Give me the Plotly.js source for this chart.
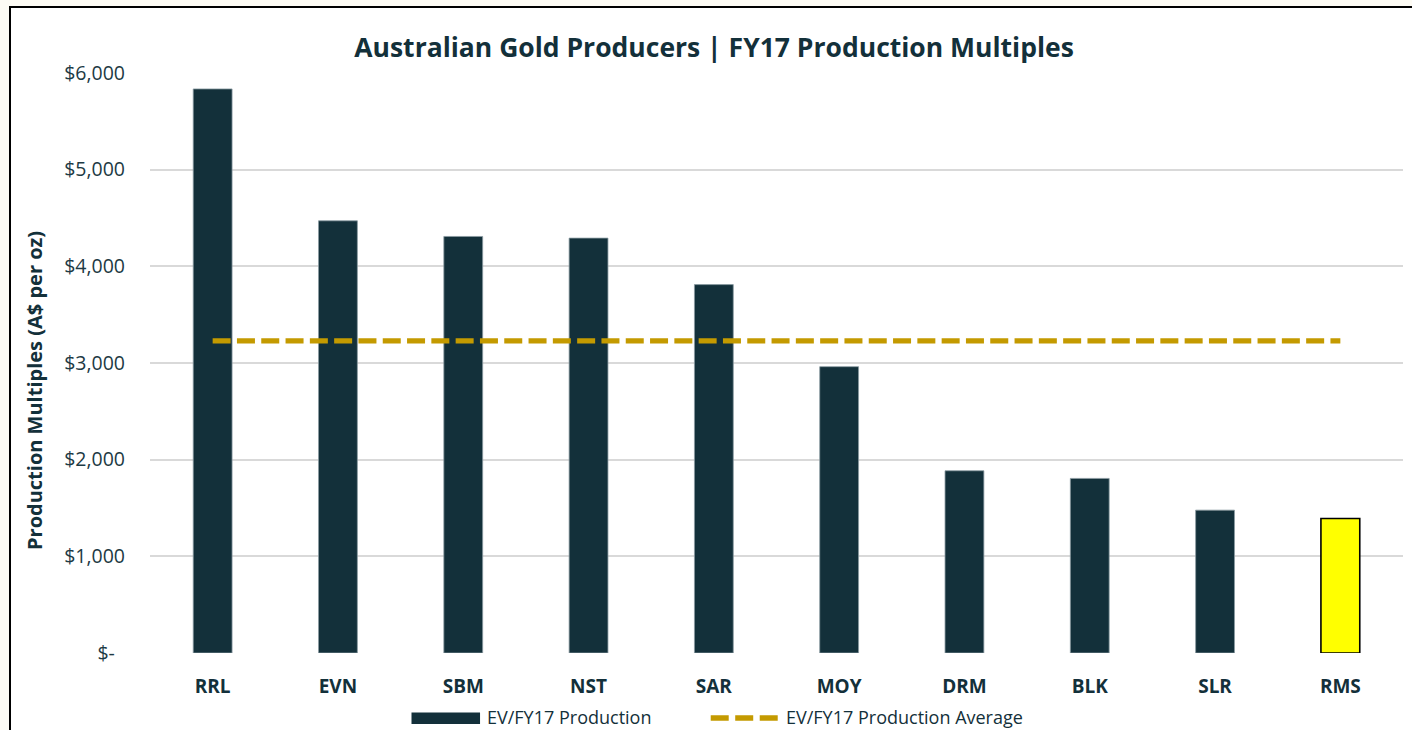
<!DOCTYPE html>
<html>
<head>
<meta charset="utf-8">
<script src="https://cdn.plot.ly/plotly-3.0.1.min.js"></script>
<style>
  html, body { margin: 0; padding: 0; background: #fdfbf4; overflow: hidden; }
  #frame { position: absolute; left: 9px; top: 6px; width: 1420px; height: 740px;
           border: 2px solid #000; background: #ffffff; }
  #chart { position: absolute; left: 0; top: 0; width: 1412px; height: 730px; }
</style>
</head>
<body>
<div id="frame"></div>
<div id="chart"></div>
<script>
const categories = ["RRL", "EVN", "SBM", "NST", "SAR", "MOY", "DRM", "BLK", "SLR", "RMS"];
const evProduction = [5835, 4471, 4309, 4292, 3811, 2962, 1885, 1806, 1478, 1392];
const productionAverage = 3228;
const yTickValues = [0, 1000, 2000, 3000, 4000, 5000, 6000];
const yTickLabels = ["$-\u00a0\u00a0", "$1,000", "$2,000", "$3,000", "$4,000", "$5,000", "$6,000"];
const seriesNames = ["EV/FY17 Production", "EV/FY17 Production Average"];
const yAxisTitle = "Production Multiples (A$ per oz)";
const chartTitle = "Australian Gold Producers | FY17 Production Multiples";
const highlighted = "RMS";

const DARK = "#13303a";
const GOLD = "#c49a00";
const YELLOW = "#ffff00";
const FONT = "Open Sans, sans-serif";

const barColors = categories.map(c => c === highlighted ? YELLOW : DARK);
const barLineColors = categories.map(c => c === highlighted ? "#000000" : "#8a9ba1");
const barLineWidths = categories.map(c => c === highlighted ? 1.6 : 0.8);

const traces = [
  {
    type: "bar",
    name: seriesNames[0],
    x: categories,
    y: evProduction,
    marker: { color: barColors, line: { color: barLineColors, width: barLineWidths } },
    hoverinfo: "x+y"
  },
  {
    type: "scatter",
    mode: "lines",
    name: seriesNames[1],
    x: categories,
    y: categories.map(() => productionAverage),
    line: { color: GOLD, width: 5.3, dash: "18px,6.3px" },
    hoverinfo: "y"
  }
];

// legend drawn in paper coordinates (plot area: x 150..1403 px, y 73..653 px)
const legendTextY = -0.1095;
const legendLineY = -0.1121;
const layout = {
  width: 1412,
  height: 730,
  paper_bgcolor: "rgba(0,0,0,0)",
  plot_bgcolor: "rgba(0,0,0,0)",
  margin: { l: 150, r: 9, t: 73, b: 77 },
  bargap: 0.69,
  font: { family: FONT, color: DARK },
  showlegend: false,
  title: {
    text: "<b>" + chartTitle + "</b>",
    font: { family: FONT, size: 26.5, color: DARK },
    xref: "container", x: 0.5057, xanchor: "center",
    yref: "container", y: 0.934, yanchor: "middle"
  },
  xaxis: {
    type: "category",
    tickfont: { family: FONT, size: 19, color: DARK, weight: "bold" },
    ticks: "", showline: false, showgrid: false,
    ticklabelstandoff: 20,
    automargin: false,
    fixedrange: true
  },
  yaxis: {
    range: [0, 6000],
    tickvals: yTickValues,
    ticktext: yTickLabels,
    tickfont: { family: FONT, size: 19.5, color: "#1d3a44" },
    ticks: "", showline: false,
    gridcolor: "#d9d9d9", gridwidth: 1.5,
    zeroline: false,
    ticklabelstandoff: 24,
    automargin: false,
    fixedrange: true
  },
  shapes: [
    { type: "rect", xref: "paper", yref: "paper",
      x0: 0.2087, x1: 0.2634, y0: -0.1224, y1: -0.1026,
      fillcolor: DARK, line: { width: 0 } },
    { type: "line", xref: "paper", yref: "paper",
      x0: 0.4475, x1: 0.5012, y0: legendLineY, y1: legendLineY,
      line: { color: GOLD, width: 5.3, dash: "18px,6.5px" } }
  ],
  annotations: [
    { xref: "paper", yref: "paper", x: -0.0926, y: 0.4534, xanchor: "center", yanchor: "middle",
      textangle: -90, text: "<b>" + yAxisTitle + "</b>", showarrow: false,
      font: { family: FONT, size: 20, color: DARK } },
    { xref: "paper", yref: "paper", x: 0.2685, y: legendTextY, xanchor: "left", yanchor: "middle",
      text: seriesNames[0], showarrow: false, borderpad: 0,
      font: { family: FONT, size: 18, color: DARK } },
    { xref: "paper", yref: "paper", x: 0.5065, y: legendTextY, xanchor: "left", yanchor: "middle",
      text: seriesNames[1], showarrow: false, borderpad: 0,
      font: { family: FONT, size: 18, color: DARK } }
  ]
};

Plotly.newPlot("chart", traces, layout, { displayModeBar: false, responsive: false });
</script>
</body>
</html>
